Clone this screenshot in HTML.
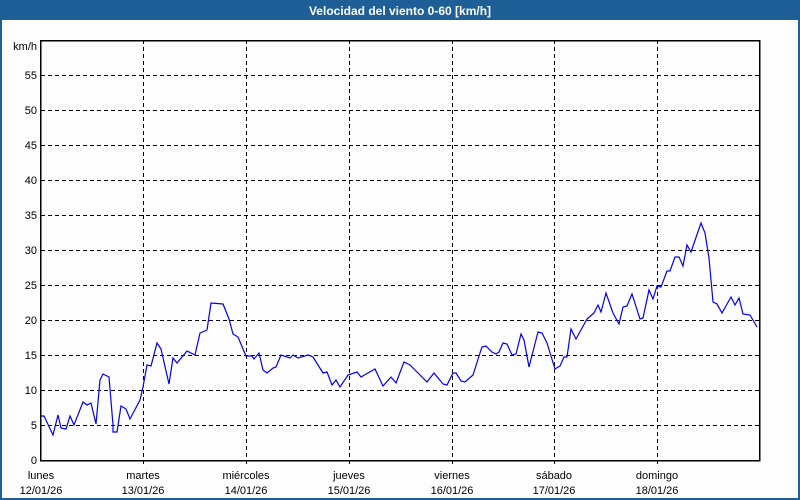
<!DOCTYPE html>
<html><head><meta charset="utf-8"><style>
body{margin:0;width:800px;height:500px;overflow:hidden;background:#fff}
svg{display:block;font-family:"Liberation Sans",sans-serif}
</style></head><body>
<svg width="800" height="500" viewBox="0 0 800 500">
<rect x="0" y="0" width="800" height="500" fill="#1d5f96"/>
<rect x="2" y="20" width="796" height="478" fill="#fdfdfd"/>
<text x="400" y="15" fill="#fff" font-size="12" font-weight="bold" text-anchor="middle">Velocidad del viento 0-60 [km/h]</text>
<g stroke="#000" stroke-width="1" stroke-dasharray="4,3" shape-rendering="crispEdges">
<line x1="41" y1="75.5" x2="760" y2="75.5"/><line x1="41" y1="110.5" x2="760" y2="110.5"/><line x1="41" y1="145.5" x2="760" y2="145.5"/><line x1="41" y1="180.5" x2="760" y2="180.5"/><line x1="41" y1="215.5" x2="760" y2="215.5"/><line x1="41" y1="250.5" x2="760" y2="250.5"/><line x1="41" y1="285.5" x2="760" y2="285.5"/><line x1="41" y1="320.5" x2="760" y2="320.5"/><line x1="41" y1="355.5" x2="760" y2="355.5"/><line x1="41" y1="390.5" x2="760" y2="390.5"/><line x1="41" y1="425.5" x2="760" y2="425.5"/>
<line x1="143.5" y1="40" x2="143.5" y2="466"/><line x1="246.5" y1="40" x2="246.5" y2="466"/><line x1="349.5" y1="40" x2="349.5" y2="466"/><line x1="452.5" y1="40" x2="452.5" y2="466"/><line x1="554.5" y1="40" x2="554.5" y2="466"/><line x1="657.5" y1="40" x2="657.5" y2="466"/>
</g>
<rect x="40.5" y="40.5" width="719" height="420" fill="none" stroke="#000" stroke-width="1.5" shape-rendering="crispEdges"/>
<g font-size="11" fill="#000" text-anchor="end">
<text x="37" y="50">km/h</text>
<text x="37" y="79">55</text><text x="37" y="114">50</text><text x="37" y="149">45</text><text x="37" y="184">40</text><text x="37" y="219">35</text><text x="37" y="254">30</text><text x="37" y="289">25</text><text x="37" y="324">20</text><text x="37" y="359">15</text><text x="37" y="394">10</text><text x="37" y="429">5</text><text x="37" y="464">0</text>
</g>
<g font-size="11" fill="#000" text-anchor="middle">
<text x="41" y="479">lunes</text><text x="41" y="494">12/01/26</text>
<text x="143" y="479">martes</text><text x="143" y="494">13/01/26</text>
<text x="246" y="479">miércoles</text><text x="246" y="494">14/01/26</text>
<text x="349" y="479">jueves</text><text x="349" y="494">15/01/26</text>
<text x="452" y="479">viernes</text><text x="452" y="494">16/01/26</text>
<text x="554" y="479">sábado</text><text x="554" y="494">17/01/26</text>
<text x="657" y="479">domingo</text><text x="657" y="494">18/01/26</text>
</g>
<polyline fill="none" stroke="#0000ff" stroke-width="1.2" points="41,416 44,416 53,435 58,415 61,428 66,429 70,416 74,425 83,402 87,405 91,403 96,424 100,380 103,374 109,377 113,425 113,432 117,432 121,406 126,409 130,419 140,400 143,387 147,365 151,366 157,343 161,349 169,384 173,358 177,363 187,351 195,355 200,333 207,330 211,303 223,304 229,319 233,334 238,337 246,356 252,356 254,359 259,353 263,370 267,373 273,368 276,367 281,355 290,358 293,355 298,358 308,355 313,357 323,373 327,372 332,385 336,380 340,387 348,375 357,372 361,377 375,369 383,386 391,377 396,383 404,362 410,365 417,372 427,382 434,373 443,384 447,385 453,373 456,373 461,381 465,382 473,375 480,353 482,347 486,346 492,352 496,354 499,352 503,343 507,344 512,355 516,354 521,334 524,340 529,367 538,332 542,333 547,343 555,369 560,366 564,357 567,357 571,329 576,339 587,319 594,313 598,305 601,312 606,293 613,313 619,324 623,307 627,306 632,294 640,319 643,318 649,290 653,299 657,286 661,287 667,271 670,271 675,257 679,257 683,266 687,245 691,252 701,223 705,233 709,258 713,302 717,304 722,313 731,297 735,305 739,298 743,314 750,315 757,327"/>
</svg>
</body></html>
